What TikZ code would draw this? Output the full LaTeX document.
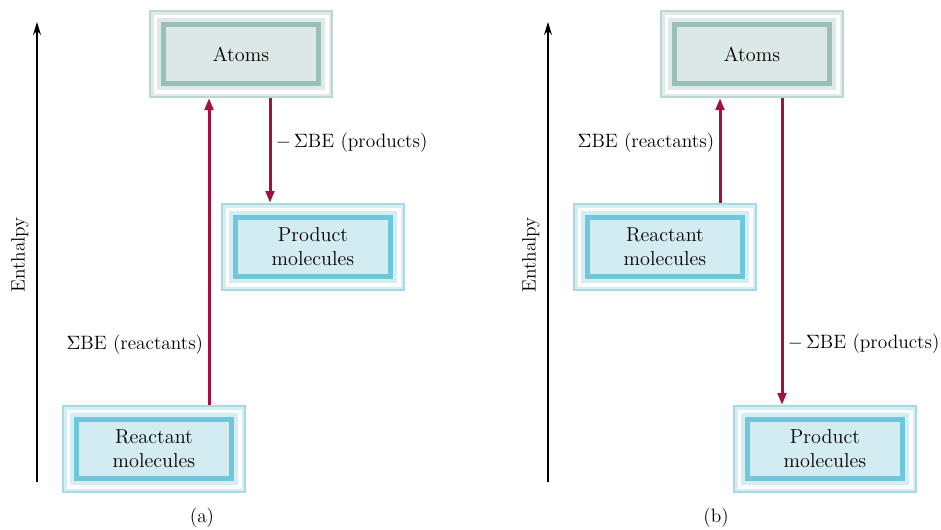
\documentclass[tikz,border=0pt]{standalone}
\usepackage{tikz}
\usetikzlibrary{arrows.meta,positioning,calc}
\usepackage{xcolor}
\definecolor{bondred}{HTML}{A3123F}
\definecolor{atomfill}{HTML}{DCE8E6}
\definecolor{atomband}{HTML}{99BFB8}
\definecolor{atomframe}{HTML}{BCD6D1}
\definecolor{atomlight}{HTML}{DDEAE8}
\definecolor{molfill}{HTML}{D3ECF1}
\definecolor{molband}{HTML}{6FC7DA}
\definecolor{molframe}{HTML}{A6DAE5}
\definecolor{mollight}{HTML}{D4EEF3}

\begin{document}
\begin{tikzpicture}[
    box/.style={rectangle,minimum width=3.10cm,minimum height=1.18cm,inner sep=0pt,
        align=center,font=\fontsize{11.5}{13.6}\selectfont,line width=0.1cm,outer sep=0.29cm},
    atombox/.style={box,fill=atomfill,draw=atomband,
        preaction={draw=atomframe,line width=0.58cm},
        preaction={draw=atomlight,line width=0.50cm},
        preaction={draw=white,line width=0.40cm},
        preaction={draw=atomlight,line width=0.26cm}},
    molbox/.style={box,fill=molfill,draw=molband,
        preaction={draw=molframe,line width=0.58cm},
        preaction={draw=mollight,line width=0.50cm},
        preaction={draw=white,line width=0.40cm},
        preaction={draw=mollight,line width=0.26cm}},
    flow/.style={draw=bondred,line width=0.06cm,-{Triangle[length=0.24cm,width=0.17cm]}},
    axis/.style={draw=black,line width=0.028cm,-{Stealth[length=0.26cm,width=0.16cm]}},
    lbl/.style={font=\fontsize{11}{13}\selectfont,inner sep=2.5pt}]
                    \useasboundingbox[fill=white] (0,0) rectangle (18.82,10.58);
                    % (a)
                    \coordinate (axA0) at (0.74,0.94);
                    \coordinate (axA1) at (0.74,10.14);
                    \draw[axis] (axA0) -- (axA1);
                    \node[lbl,rotate=90] (enthA) at (0.40,5.48) {Enthalpy};
                    \node[atombox] (atomsA) at (4.82,9.50) {Atoms};
                    \node[molbox] (reactA) at (3.08,1.60) {Reactant\\molecules};
                    \node[molbox] (prodA) at (6.26,5.64) {Product\\molecules};
                    \draw[flow] ([xshift=1.1cm]reactA.north) -- ([xshift=1.1cm]reactA.north |- atomsA.south)
                        node[lbl,pos=0.195,left] (sumRA) {$\Sigma$BE (reactants)};
                    \draw[flow] ([xshift=0.58cm]atomsA.south) -- ([xshift=0.58cm]atomsA.south |- prodA.north)
                        node[lbl,pos=0.43,right] (sumPA) {$-\,\Sigma$BE (products)};
                    \node[lbl] (capA) at (4.04,0.22) {(a)};
                    % (b)
                    \coordinate (axB0) at (10.96,0.94);
                    \coordinate (axB1) at (10.96,10.14);
                    \draw[axis] (axB0) -- (axB1);
                    \node[lbl,rotate=90] (enthB) at (10.62,5.48) {Enthalpy};
                    \node[atombox] (atomsB) at (15.04,9.50) {Atoms};
                    \node[molbox] (reactB) at (13.30,5.64) {Reactant\\molecules};
                    \node[molbox] (prodB) at (16.50,1.60) {Product\\molecules};
                    \draw[flow] ([xshift=1.1cm]reactB.north) -- ([xshift=1.1cm]reactB.north |- atomsB.south)
                        node[lbl,pos=0.57,left] (sumRB) {$\Sigma$BE (reactants)};
                    \draw[flow] ([xshift=0.6cm]atomsB.south) -- ([xshift=0.6cm]atomsB.south |- prodB.north)
                        node[lbl,pos=0.80,right] (sumPB) {$-\,\Sigma$BE (products)};
                    \node[lbl] (capB) at (14.32,0.22) {(b)};
                \end{tikzpicture}
\end{document}
